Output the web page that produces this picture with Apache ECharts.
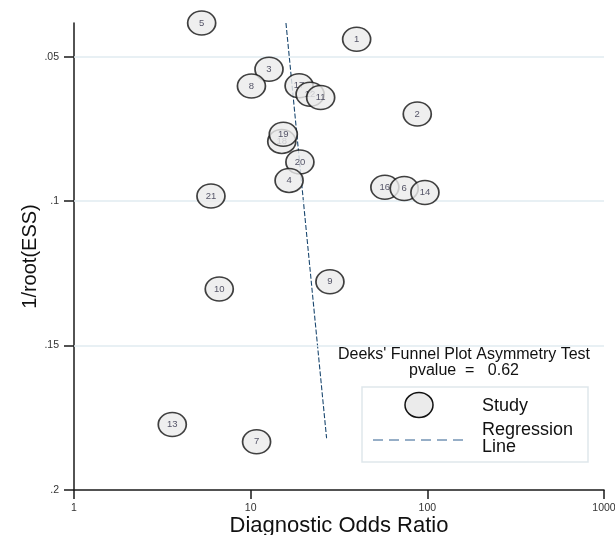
<!DOCTYPE html>
<html>
<head>
<meta charset="utf-8">
<script src="https://cdn.jsdelivr.net/npm/echarts@6/dist/echarts.min.js"></script>
<style>html,body{margin:0;padding:0;background:#fff}#c{width:615px;height:535px}</style>
</head>
<body>
<div id="c"></div>
<script>
// Study labels (drawing order), diagnostic odds ratio, 1/root(ESS)
const studies = ['5','1','3','8','17','12','11','2','18','19','20','4','16','6','14','21','10','9','13','7'];
const dor = [5.28, 39.8, 12.7, 10.1, 18.8, 21.7, 24.9, 87.7, 15.0, 15.3, 19.0, 16.5, 57.5, 74.0, 96.9, 5.96, 6.64, 28.1, 3.60, 10.8];
const invRootEss = [0.0383, 0.0439, 0.0543, 0.0601, 0.0600, 0.0630, 0.0641, 0.0698, 0.0793, 0.0768, 0.0864, 0.0928, 0.0952, 0.0956, 0.0970, 0.0982, 0.1304, 0.1279, 0.1773, 0.1833];
// Regression line end points
const regX = [15.84, 26.9];
const regY = [0.0383, 0.1821];
// Axis ticks
const xTicks = [1, 10, 100, 1000];
const yTicks = [0.05, 0.1, 0.15, 0.2];
const yGridLines = [0.05, 0.1, 0.15];

const FONT = '"Liberation Sans", Arial, sans-serif';
const chart = echarts.init(document.getElementById('c'), null, {renderer: 'canvas'});

const series = [];
series.push({
  type: 'line', data: [], silent: true, z: 1,
  markLine: {
    silent: true, symbol: 'none', label: {show: false},
    lineStyle: {color: '#e1ebf0', width: 1.5, type: 'solid'},
    data: yGridLines.map(v => ({yAxis: v}))
  }
});
series.push({
  type: 'line', z: 2, symbol: 'none', silent: true,
  data: regX.map((x, i) => [x, regY[i]]),
  lineStyle: {color: '#1a476f', width: 1.1, type: [5, 2]}
});
studies.forEach((s, i) => {
  series.push({
    type: 'scatter', z: 10 + i, clip: false, silent: true,
    symbol: 'circle', symbolSize: [28, 24],
    itemStyle: {color: '#ebebeb', borderColor: '#111', borderWidth: 1.6},
    label: {show: true, position: 'inside', formatter: s, fontSize: 9.5, color: '#2c2c44', fontFamily: FONT},
    data: [[dor[i], invRootEss[i]]]
  });
});

chart.setOption({
  animation: false,
  backgroundColor: '#fff',
  grid: {left: 74, right: 11, top: 23, bottom: 45, outerBoundsMode: 'none', containLabel: false},
  xAxis: {
    type: 'log', logBase: 10, min: 1, max: 1000,
    name: 'Diagnostic Odds Ratio', nameLocation: 'middle', nameGap: 25, nameMoveOverlap: false,
    nameTextStyle: {fontSize: 22, color: '#111', fontFamily: FONT},
    axisLine: {show: true, lineStyle: {color: '#1a1a1a', width: 1.5}},
    axisTick: {show: true, length: 9, lineStyle: {color: '#1a1a1a', width: 1.5}, customValues: xTicks},
    axisLabel: {fontSize: 10.5, color: '#333', margin: 13, fontFamily: FONT, customValues: xTicks, formatter: v => String(v)},
    minorTick: {show: false},
    splitLine: {show: false}
  },
  yAxis: {
    type: 'value', inverse: true, min: 0.0383, max: 0.2,
    name: '1/root(ESS)', nameLocation: 'middle', nameGap: 34, nameMoveOverlap: false,
    nameTextStyle: {fontSize: 20, color: '#111', fontFamily: FONT},
    axisLine: {show: true, lineStyle: {color: '#1a1a1a', width: 1.5}},
    axisTick: {show: true, length: 10, lineStyle: {color: '#1a1a1a', width: 1.5}, customValues: yTicks},
    axisLabel: {fontSize: 10.5, color: '#333', margin: 15, fontFamily: FONT, customValues: yTicks,
      formatter: v => String(+v.toFixed(2)).replace(/^0/, '')},
    splitLine: {show: false}
  },
  series: series,
  graphic: [
    {type: 'text', z: 100,
      style: {text: "Deeks' Funnel Plot Asymmetry Test", x: 464, y: 355, align: 'center', verticalAlign: 'middle', fill: '#111', font: '16px ' + FONT}},
    {type: 'text', z: 100,
      style: {text: 'pvalue  =   0.62', x: 464, y: 371, align: 'center', verticalAlign: 'middle', fill: '#111', font: '16px ' + FONT}},
    {type: 'rect', z: 100, shape: {x: 362, y: 387, width: 226, height: 75},
      style: {fill: '#fff', stroke: '#dfe7ec', lineWidth: 1.5}},
    {type: 'ellipse', z: 101, shape: {cx: 419, cy: 405, rx: 14, ry: 12.5},
      style: {fill: '#ebebeb', stroke: '#111', lineWidth: 1.5}},
    {type: 'line', z: 101, shape: {x1: 373, y1: 440, x2: 467, y2: 440},
      style: {stroke: '#2f5f8f', lineWidth: 1, lineDash: [10, 6]}},
    {type: 'text', z: 101,
      style: {text: 'Study', x: 482, y: 406, verticalAlign: 'middle', fill: '#111', font: '18px ' + FONT}},
    {type: 'text', z: 101,
      style: {text: 'Regression', x: 482, y: 430, verticalAlign: 'middle', fill: '#111', font: '18px ' + FONT}},
    {type: 'text', z: 101,
      style: {text: 'Line', x: 482, y: 447, verticalAlign: 'middle', fill: '#111', font: '18px ' + FONT}}
  ]
});
</script>
</body>
</html>
